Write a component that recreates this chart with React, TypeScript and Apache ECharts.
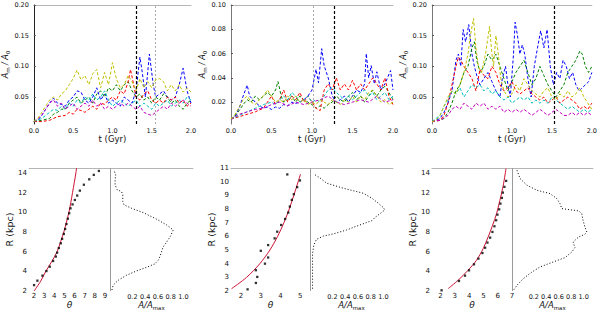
import React, { useEffect, useRef } from "react";
import * as echarts from "echarts";

const FONT = "DejaVu Sans";

// ---------- top row: A_m/A_0 versus t (Gyr) ----------
const tTicks = [0, 0.5, 1.0, 1.5, 2.0];
const yTicksA = [0.05, 0.1, 0.15, 0.2];
const yTicksB = [0.02, 0.04, 0.06, 0.08, 0.1];

const P1_blue = [[0,0.01],[0.05,0.012],[0.1,0.02],[0.15,0.03],[0.2,0.04],[0.25,0.048],[0.3,0.04],[0.35,0.038],[0.4,0.035],[0.45,0.045],[0.5,0.05],[0.55,0.06],[0.6,0.058],[0.65,0.045],[0.7,0.04],[0.75,0.05],[0.8,0.065],[0.85,0.045],[0.9,0.055],[0.95,0.04],[1.0,0.045],[1.05,0.04],[1.1,0.035],[1.15,0.05],[1.2,0.045],[1.25,0.04],[1.3,0.06],[1.35,0.115],[1.38,0.09],[1.42,0.05],[1.47,0.12],[1.52,0.07],[1.55,0.05],[1.6,0.055],[1.65,0.06],[1.7,0.05],[1.75,0.045],[1.8,0.05],[1.85,0.07],[1.9,0.097],[1.95,0.06],[2.0,0.04]];
const P1_green = [[0,0.01],[0.1,0.012],[0.2,0.015],[0.25,0.022],[0.3,0.025],[0.35,0.03],[0.4,0.03],[0.45,0.04],[0.5,0.045],[0.55,0.05],[0.6,0.04],[0.65,0.045],[0.7,0.05],[0.75,0.04],[0.8,0.055],[0.85,0.06],[0.9,0.05],[0.95,0.065],[1.0,0.06],[1.05,0.07],[1.1,0.06],[1.15,0.07],[1.2,0.075],[1.25,0.06],[1.3,0.05],[1.35,0.055],[1.4,0.045],[1.45,0.05],[1.5,0.04],[1.55,0.05],[1.6,0.045],[1.65,0.055],[1.7,0.05],[1.75,0.04],[1.8,0.045],[1.85,0.035],[1.9,0.03],[1.95,0.04],[2.0,0.045]];
const P1_red = [[0,0.01],[0.1,0.01],[0.2,0.012],[0.3,0.018],[0.4,0.02],[0.45,0.025],[0.5,0.022],[0.55,0.03],[0.6,0.028],[0.65,0.025],[0.7,0.03],[0.75,0.035],[0.8,0.03],[0.85,0.04],[0.9,0.038],[0.95,0.045],[1.0,0.05],[1.05,0.045],[1.1,0.06],[1.15,0.055],[1.2,0.075],[1.23,0.095],[1.27,0.07],[1.3,0.05],[1.35,0.045],[1.4,0.055],[1.45,0.06],[1.5,0.045],[1.55,0.04],[1.6,0.045],[1.65,0.04],[1.7,0.05],[1.75,0.045],[1.8,0.05],[1.85,0.04],[1.9,0.045],[1.95,0.035],[2.0,0.04]];
const P1_cyan = [[0,0.01],[0.1,0.015],[0.2,0.025],[0.25,0.03],[0.3,0.028],[0.35,0.035],[0.4,0.03],[0.45,0.04],[0.5,0.035],[0.55,0.045],[0.6,0.04],[0.65,0.05],[0.7,0.045],[0.75,0.055],[0.8,0.045],[0.85,0.05],[0.9,0.06],[0.95,0.045],[1.0,0.035],[1.05,0.04],[1.1,0.045],[1.15,0.04],[1.2,0.035],[1.25,0.04],[1.3,0.045],[1.35,0.035],[1.4,0.04],[1.45,0.035],[1.5,0.03],[1.55,0.04],[1.6,0.035],[1.65,0.04],[1.7,0.045],[1.75,0.035],[1.8,0.04],[1.85,0.045],[1.9,0.04],[1.95,0.05],[2.0,0.045]];
const P1_magenta = [[0,0.01],[0.1,0.02],[0.15,0.03],[0.2,0.04],[0.25,0.045],[0.3,0.035],[0.35,0.04],[0.4,0.03],[0.45,0.035],[0.5,0.04],[0.55,0.03],[0.6,0.035],[0.65,0.04],[0.7,0.035],[0.75,0.045],[0.8,0.035],[0.85,0.04],[0.9,0.03],[0.95,0.035],[1.0,0.03],[1.05,0.035],[1.1,0.04],[1.15,0.035],[1.2,0.04],[1.25,0.035],[1.3,0.03],[1.35,0.035],[1.4,0.025],[1.45,0.022],[1.5,0.02],[1.55,0.025],[1.6,0.03],[1.65,0.035],[1.7,0.03],[1.75,0.04],[1.8,0.035],[1.85,0.04],[1.9,0.045],[1.95,0.04],[2.0,0.035]];
const P1_yellow = [[0,0.01],[0.05,0.015],[0.1,0.025],[0.15,0.035],[0.2,0.045],[0.25,0.05],[0.3,0.045],[0.35,0.055],[0.4,0.06],[0.45,0.07],[0.5,0.08],[0.55,0.094],[0.6,0.078],[0.65,0.085],[0.7,0.07],[0.75,0.088],[0.8,0.095],[0.85,0.065],[0.9,0.09],[0.95,0.07],[1.0,0.106],[1.05,0.08],[1.1,0.065],[1.15,0.07],[1.2,0.085],[1.25,0.075],[1.3,0.06],[1.35,0.08],[1.4,0.065],[1.45,0.075],[1.5,0.065],[1.55,0.078],[1.6,0.08],[1.65,0.075],[1.7,0.06],[1.75,0.07],[1.8,0.06],[1.85,0.07],[1.9,0.058],[1.95,0.065],[2.0,0.058]];

const P2_blue = [[0,0.006],[0.05,0.008],[0.1,0.015],[0.15,0.025],[0.2,0.034],[0.23,0.025],[0.3,0.02],[0.35,0.017],[0.4,0.015],[0.45,0.016],[0.5,0.014],[0.55,0.016],[0.6,0.015],[0.65,0.018],[0.7,0.017],[0.75,0.02],[0.8,0.019],[0.85,0.02],[0.9,0.022],[0.95,0.025],[1.0,0.03],[1.05,0.047],[1.08,0.036],[1.12,0.064],[1.15,0.05],[1.2,0.04],[1.25,0.025],[1.3,0.02],[1.35,0.022],[1.4,0.025],[1.45,0.02],[1.5,0.025],[1.55,0.03],[1.6,0.028],[1.65,0.035],[1.67,0.06],[1.7,0.04],[1.73,0.05],[1.77,0.035],[1.8,0.045],[1.85,0.03],[1.9,0.035],[1.97,0.046],[2.0,0.03]];
const P2_green = [[0,0.006],[0.05,0.009],[0.1,0.013],[0.15,0.018],[0.2,0.022],[0.25,0.02],[0.3,0.025],[0.35,0.022],[0.4,0.025],[0.45,0.028],[0.5,0.025],[0.55,0.03],[0.58,0.037],[0.62,0.025],[0.65,0.02],[0.7,0.022],[0.75,0.025],[0.8,0.02],[0.85,0.025],[0.9,0.022],[0.95,0.02],[1.0,0.018],[1.05,0.015],[1.1,0.017],[1.15,0.015],[1.2,0.018],[1.25,0.02],[1.3,0.025],[1.35,0.022],[1.4,0.02],[1.45,0.025],[1.5,0.028],[1.55,0.022],[1.6,0.025],[1.65,0.02],[1.7,0.025],[1.75,0.03],[1.8,0.025],[1.85,0.03],[1.9,0.033],[1.95,0.028],[2.0,0.022]];
const P2_red = [[0,0.006],[0.1,0.008],[0.2,0.01],[0.3,0.012],[0.4,0.015],[0.45,0.02],[0.5,0.025],[0.55,0.018],[0.6,0.022],[0.65,0.03],[0.7,0.02],[0.75,0.025],[0.8,0.022],[0.85,0.028],[0.9,0.02],[0.95,0.025],[1.0,0.02],[1.05,0.015],[1.1,0.013],[1.15,0.03],[1.2,0.035],[1.25,0.03],[1.3,0.04],[1.35,0.03],[1.4,0.035],[1.45,0.03],[1.5,0.038],[1.55,0.03],[1.6,0.035],[1.65,0.03],[1.7,0.035],[1.75,0.04],[1.8,0.035],[1.85,0.03],[1.9,0.04],[1.95,0.025],[2.0,0.018]];
const P2_cyan = [[0,0.006],[0.1,0.009],[0.2,0.012],[0.3,0.015],[0.4,0.018],[0.5,0.02],[0.55,0.018],[0.6,0.022],[0.65,0.025],[0.7,0.022],[0.75,0.028],[0.8,0.025],[0.85,0.02],[0.9,0.022],[0.95,0.025],[1.0,0.02],[1.05,0.022],[1.1,0.02],[1.15,0.025],[1.2,0.03],[1.25,0.032],[1.3,0.028],[1.35,0.025],[1.4,0.022],[1.45,0.025],[1.5,0.022],[1.55,0.025],[1.6,0.028],[1.65,0.03],[1.7,0.025],[1.75,0.028],[1.8,0.022],[1.85,0.025],[1.9,0.028],[1.95,0.022],[2.0,0.025]];
const P2_magenta = [[0,0.006],[0.1,0.01],[0.2,0.012],[0.3,0.014],[0.4,0.015],[0.5,0.018],[0.6,0.02],[0.7,0.017],[0.8,0.02],[0.9,0.018],[1.0,0.02],[1.1,0.022],[1.2,0.025],[1.3,0.02],[1.4,0.018],[1.5,0.02],[1.6,0.022],[1.7,0.02],[1.8,0.025],[1.9,0.02],[2.0,0.022]];
const P2_yellow = [[0,0.006],[0.05,0.01],[0.1,0.016],[0.15,0.022],[0.2,0.025],[0.25,0.02],[0.3,0.018],[0.35,0.022],[0.4,0.025],[0.45,0.03],[0.5,0.025],[0.55,0.02],[0.6,0.022],[0.65,0.02],[0.7,0.025],[0.75,0.022],[0.8,0.025],[0.85,0.02],[0.9,0.022],[0.95,0.018],[1.0,0.02],[1.05,0.018],[1.1,0.022],[1.15,0.02],[1.2,0.018],[1.25,0.022],[1.3,0.02],[1.35,0.018],[1.4,0.022],[1.45,0.02],[1.5,0.025],[1.55,0.02],[1.6,0.025],[1.65,0.022],[1.7,0.028],[1.75,0.03],[1.8,0.025],[1.85,0.02],[1.9,0.022],[1.95,0.018],[2.0,0.02]];

const P3_blue = [[0,0.01],[0.05,0.012],[0.1,0.015],[0.15,0.025],[0.2,0.04],[0.25,0.06],[0.28,0.09],[0.3,0.11],[0.33,0.12],[0.36,0.1],[0.39,0.16],[0.42,0.14],[0.46,0.168],[0.5,0.12],[0.53,0.1],[0.56,0.085],[0.6,0.07],[0.65,0.08],[0.7,0.09],[0.75,0.075],[0.8,0.06],[0.85,0.05],[0.88,0.08],[0.92,0.1],[0.95,0.07],[0.98,0.05],[1.02,0.12],[1.04,0.172],[1.07,0.15],[1.1,0.12],[1.13,0.135],[1.16,0.12],[1.2,0.08],[1.24,0.05],[1.28,0.1],[1.32,0.13],[1.36,0.158],[1.4,0.13],[1.44,0.16],[1.48,0.1],[1.52,0.07],[1.56,0.09],[1.6,0.08],[1.64,0.11],[1.68,0.1],[1.72,0.08],[1.76,0.09],[1.8,0.07],[1.84,0.06],[1.88,0.065],[1.92,0.07],[1.96,0.075],[2.0,0.09]];
const P3_green = [[0,0.01],[0.1,0.012],[0.15,0.015],[0.2,0.025],[0.25,0.04],[0.3,0.06],[0.35,0.07],[0.4,0.09],[0.45,0.1],[0.5,0.13],[0.53,0.14],[0.56,0.11],[0.6,0.09],[0.65,0.1],[0.7,0.12],[0.75,0.11],[0.8,0.12],[0.85,0.1],[0.9,0.08],[0.95,0.06],[1.0,0.075],[1.05,0.09],[1.1,0.1],[1.15,0.11],[1.2,0.09],[1.25,0.07],[1.3,0.08],[1.35,0.1],[1.4,0.085],[1.45,0.07],[1.5,0.06],[1.55,0.05],[1.6,0.06],[1.65,0.07],[1.7,0.09],[1.75,0.1],[1.8,0.11],[1.85,0.125],[1.88,0.12],[1.92,0.1],[1.96,0.09],[2.0,0.1]];
const P3_red = [[0,0.01],[0.1,0.012],[0.15,0.02],[0.2,0.04],[0.25,0.07],[0.3,0.1],[0.33,0.115],[0.36,0.11],[0.4,0.1],[0.45,0.09],[0.5,0.08],[0.55,0.06],[0.6,0.095],[0.65,0.085],[0.7,0.08],[0.75,0.1],[0.8,0.09],[0.85,0.07],[0.9,0.06],[0.95,0.065],[1.0,0.075],[1.05,0.06],[1.1,0.055],[1.15,0.06],[1.2,0.065],[1.25,0.055],[1.3,0.05],[1.35,0.045],[1.4,0.05],[1.45,0.04],[1.5,0.045],[1.55,0.05],[1.6,0.04],[1.65,0.045],[1.7,0.05],[1.75,0.045],[1.8,0.04],[1.85,0.03],[1.9,0.035],[1.95,0.03],[2.0,0.04]];
const P3_cyan = [[0,0.01],[0.1,0.02],[0.15,0.035],[0.2,0.045],[0.25,0.06],[0.3,0.055],[0.35,0.065],[0.4,0.05],[0.45,0.06],[0.5,0.07],[0.55,0.065],[0.6,0.07],[0.65,0.06],[0.7,0.065],[0.75,0.055],[0.8,0.06],[0.85,0.05],[0.9,0.045],[0.95,0.05],[1.0,0.04],[1.05,0.045],[1.1,0.05],[1.15,0.045],[1.2,0.05],[1.25,0.04],[1.3,0.045],[1.35,0.04],[1.4,0.045],[1.45,0.04],[1.5,0.05],[1.55,0.045],[1.6,0.04],[1.65,0.035],[1.7,0.03],[1.75,0.035],[1.8,0.03],[1.85,0.025],[1.9,0.03],[1.95,0.025],[2.0,0.03]];
const P3_magenta = [[0,0.01],[0.1,0.012],[0.2,0.02],[0.25,0.03],[0.3,0.035],[0.35,0.03],[0.4,0.04],[0.45,0.035],[0.5,0.03],[0.55,0.04],[0.6,0.035],[0.65,0.04],[0.7,0.03],[0.75,0.035],[0.8,0.03],[0.85,0.035],[0.9,0.025],[0.95,0.03],[1.0,0.025],[1.05,0.03],[1.1,0.025],[1.15,0.03],[1.2,0.025],[1.25,0.02],[1.3,0.025],[1.35,0.03],[1.4,0.025],[1.45,0.02],[1.5,0.025],[1.55,0.03],[1.6,0.025],[1.65,0.02],[1.7,0.02],[1.75,0.025],[1.8,0.02],[1.85,0.025],[1.9,0.02],[1.95,0.025],[2.0,0.02]];
const P3_yellow = [[0,0.01],[0.05,0.012],[0.1,0.02],[0.15,0.035],[0.2,0.05],[0.25,0.06],[0.3,0.055],[0.35,0.07],[0.4,0.09],[0.45,0.12],[0.48,0.15],[0.52,0.178],[0.55,0.13],[0.58,0.1],[0.62,0.09],[0.67,0.12],[0.72,0.165],[0.75,0.12],[0.77,0.1],[0.8,0.15],[0.83,0.12],[0.86,0.08],[0.9,0.06],[0.95,0.05],[1.0,0.055],[1.05,0.07],[1.1,0.06],[1.15,0.08],[1.2,0.07],[1.25,0.06],[1.3,0.055],[1.35,0.05],[1.4,0.06],[1.45,0.065],[1.5,0.05],[1.55,0.045],[1.6,0.055],[1.65,0.05],[1.7,0.06],[1.75,0.05],[1.8,0.055],[1.85,0.065],[1.9,0.05],[1.95,0.04],[2.0,0.03]];

// vertical markers (t in Gyr)
const P1_marks = [1.3, 1.55];
const P2_marks = [1.27, 1.02];
const P3_marks = [1.53];

// ---------- bottom row: R (kpc) vs theta, and A/A_max vs R ----------
const P4_thetaTicks = [2, 3, 4, 5, 6, 7, 8, 9];
const P5_thetaTicks = [2, 3, 4, 5];
const P6_thetaTicks = [2, 3, 4, 5, 6, 7];
const R_ticksA = [2, 4, 6, 8, 10, 12, 14];
const R_ticksB = [2, 3, 4, 5, 6, 7, 8, 9, 10, 11];
const A_ticks = [0.2, 0.4, 0.6, 0.8, 1.0];
const A_range = [-0.15, 1.15];

const P4_fit = [[2.0,2],[2.65,3],[3.16,4],[3.75,5],[4.28,6],[4.62,7],[4.94,8],[5.2,9],[5.44,10],[5.63,11],[5.8,12],[5.97,13],[6.13,14],[6.2,14.5]];
const P4_dots = [[2.0,2.6],[2.33,3.05],[2.83,3.56],[3.22,4.03],[3.55,4.47],[3.88,5.05],[4.15,5.5],[4.28,5.9],[4.45,6.37],[4.64,6.85],[4.77,7.3],[4.94,7.8],[5.07,8.3],[5.2,8.8],[5.34,9.35],[5.47,9.9],[5.6,10.4],[5.8,10.8],[6.03,11.25],[6.26,11.7],[6.52,12.2],[6.92,12.8],[7.45,13.35],[7.9,13.8],[8.4,14.2]];
const P4_profile = [[-0.12,2.1],[-0.1,2.6],[-0.02,3.1],[0.11,3.6],[0.27,4.05],[0.42,4.4],[0.55,4.75],[0.61,5.15],[0.64,5.65],[0.68,6.45],[0.74,7.0],[0.8,7.6],[0.84,8.2],[0.74,8.7],[0.58,9.3],[0.37,9.97],[0.19,10.4],[0.07,10.75],[0.05,11.1],[0.05,11.8],[0.03,12.1],[-0.04,12.3],[-0.07,12.8],[-0.07,13.3],[-0.06,13.8],[-0.09,14.3]];

const P5_fit = [[1.53,2.17],[2.29,3],[2.96,4],[3.47,5],[3.86,6],[4.18,7],[4.45,8],[4.68,9],[4.9,10],[5.02,10.55]];
const P5_dots = [[2.34,2.12],[2.76,2.59],[2.83,3.03],[2.76,3.52],[3.22,4.0],[3.38,4.45],[3.01,4.94],[3.38,5.36],[3.71,5.85],[3.84,6.34],[4.04,6.83],[4.24,7.27],[4.4,7.74],[4.48,8.18],[4.58,8.67],[4.68,9.08],[4.85,9.6],[4.99,10.09],[4.35,10.53]];
const P5_profile = [[-0.11,2.17],[-0.11,3.76],[-0.11,4.75],[-0.09,5.36],[-0.05,5.77],[0.06,6.02],[0.21,6.17],[0.42,6.46],[0.63,6.83],[0.82,7.15],[0.87,7.39],[0.97,7.74],[1.02,7.93],[1.0,8.1],[0.92,8.42],[0.82,8.79],[0.68,9.16],[0.37,9.52],[0.11,9.89],[0.01,10.26],[-0.07,10.5]];

const P6_fit = [[2.53,2.24],[3.22,3.08],[3.92,4.1],[4.51,5.12],[4.98,6.3],[5.33,7.49],[5.64,8.68],[5.92,9.86],[6.15,11.2],[6.39,12.75],[6.58,14.44]];
const P6_dots = [[2.07,2.07],[3.29,3.02],[3.71,3.56],[3.99,4.1],[4.34,4.71],[4.65,5.29],[4.93,5.86],[5.12,6.4],[5.28,6.92],[5.47,7.42],[5.63,8.0],[5.77,8.58],[5.89,9.19],[5.98,9.76],[6.1,10.3],[6.19,10.88],[6.29,11.46],[6.36,12.0],[6.47,12.58],[6.59,13.19]];
const P6_profile = [[-0.12,2.14],[-0.07,2.58],[0.03,3.25],[0.17,3.93],[0.3,4.44],[0.51,4.95],[0.7,5.39],[0.81,5.97],[0.86,6.41],[0.83,6.98],[0.92,7.49],[1.02,7.76],[1.05,8.0],[1.02,8.5],[0.99,9.19],[0.97,9.86],[0.92,10.14],[0.65,10.37],[0.62,10.88],[0.57,11.39],[0.46,11.9],[0.25,12.24],[0.09,12.75],[-0.02,13.42],[-0.07,14.27]];

const C = { b: "#0000ff", g: "#008000", r: "#ff0000", c: "#00bfbf", m: "#bf00bf", y: "#bfbf00" };

function buildOption() {
  const topGrids = [
    { left: 29, top: 5, width: 162, height: 119 },
    { left: 231, top: 5, width: 162, height: 119 },
    { left: 432, top: 5, width: 161, height: 119 },
  ];
  const blGrids = [
    { left: 29, top: 168, width: 81, height: 123 },
    { left: 231, top: 168, width: 79, height: 123 },
    { left: 432, top: 168, width: 80, height: 123 },
  ];
  const brGrids = [
    { left: 110, top: 168, width: 83, height: 123 },
    { left: 310, top: 168, width: 83, height: 123 },
    { left: 512, top: 168, width: 81, height: 123 },
  ];
  const grid = [...topGrids, ...blGrids, ...brGrids];

  const top = [
    { lines: [[C.b, P1_blue], [C.g, P1_green], [C.r, P1_red], [C.c, P1_cyan], [C.m, P1_magenta], [C.y, P1_yellow]], ticks: yTicksA, min: 0.006, max: 0.2, marks: P1_marks, leftColor: "#222" },
    { lines: [[C.b, P2_blue], [C.g, P2_green], [C.r, P2_red], [C.c, P2_cyan], [C.m, P2_magenta], [C.y, P2_yellow]], ticks: yTicksB, min: 0.002, max: 0.1, marks: P2_marks, leftColor: "#777" },
    { lines: [[C.b, P3_blue], [C.g, P3_green], [C.r, P3_red], [C.c, P3_cyan], [C.m, P3_magenta], [C.y, P3_yellow]], ticks: yTicksA, min: 0.006, max: 0.2, marks: P3_marks, leftColor: "#777" },
  ];
  const bottom = [
    { fit: P4_fit, dots: P4_dots, prof: P4_profile, th: [1.5, 9.5], thTicks: P4_thetaTicks, rMax: 14.5, rTicks: R_ticksA },
    { fit: P5_fit, dots: P5_dots, prof: P5_profile, th: [1.5, 5.5], thTicks: P5_thetaTicks, rMax: 11, rTicks: R_ticksB },
    { fit: P6_fit, dots: P6_dots, prof: P6_profile, th: [1.4, 7.0], thTicks: P6_thetaTicks, rMax: 14.5, rTicks: R_ticksA },
  ];

  const tickText = (size: number) => ({ fontFamily: FONT, fontSize: size, color: "#111" });
  const xAxis: any[] = [];
  const yAxis: any[] = [];
  const series: any[] = [];

  // top panels
  top.forEach((p, i) => {
    xAxis[i] = {
      type: "value", gridIndex: i, min: 0, max: 2,
      axisLine: { show: false, onZero: false }, axisTick: { show: false }, splitLine: { show: false },
      axisLabel: { ...tickText(6.5), customValues: tTicks, formatter: (v: number) => v.toFixed(1), margin: 3 },
      name: "t (Gyr)", nameLocation: "middle", nameGap: 10,
      nameTextStyle: { fontFamily: FONT, fontSize: 8.5, color: "#111" },
    };
    yAxis[i] = {
      type: "value", gridIndex: i, min: p.min, max: p.max,
      axisLine: { show: true, onZero: false, lineStyle: { color: p.leftColor, width: 1 } },
      axisTick: { show: true, inside: true, length: 2, customValues: p.ticks, lineStyle: { color: "#555" } },
      splitLine: { show: false },
      axisLabel: { ...tickText(6.5), customValues: p.ticks, formatter: (v: number) => v.toFixed(2), margin: 5 },
      name: "{a|A}{s|m}{a| / A}{s|0}", nameLocation: "middle", nameGap: 16,
      nameTextStyle: {
        fontFamily: FONT, color: "#111",
        rich: {
          a: { fontFamily: FONT, fontSize: 8, fontStyle: "italic", color: "#111" },
          s: { fontFamily: FONT, fontSize: 5.5, color: "#111", padding: [5, 0, 0, 0] },
        },
      },
    };
    p.lines.forEach(([color, data], k) => {
      const s: any = {
        type: "line", xAxisIndex: i, yAxisIndex: i, data, symbol: "none", showSymbol: false,
        silent: true, lineStyle: { color, width: 1, type: [3, 2] }, z: 2 + k,
      };
      if (k === 0) {
        s.markLine = {
          symbol: ["none", "none"], silent: true, label: { show: false },
          data: p.marks.map((t, j) => ({
            xAxis: t,
            lineStyle: j === 0 ? { color: "#000", width: 1.2, type: [3, 2] } : { color: "#aaa", width: 1, type: [2, 2] },
          })),
        };
      }
      series.push(s);
    });
  });

  // bottom panels
  bottom.forEach((p, k) => {
    const li = 3 + k;
    const ri = 6 + k;
    xAxis[li] = {
      type: "value", gridIndex: li, min: p.th[0], max: p.th[1],
      axisLine: { show: false, onZero: false }, axisTick: { show: false }, splitLine: { show: false },
      axisLabel: { ...tickText(7), customValues: p.thTicks, formatter: (v: number) => String(v), margin: 1.5 },
      name: "θ", nameLocation: "middle", nameGap: 8,
      nameTextStyle: { fontFamily: FONT, fontSize: 9, fontStyle: "italic", color: "#111" },
    };
    yAxis[li] = {
      type: "value", gridIndex: li, min: 2, max: p.rMax,
      axisLine: { show: false, onZero: false }, axisTick: { show: false }, splitLine: { show: false },
      axisLabel: { ...tickText(7), customValues: p.rTicks, formatter: (v: number) => String(v), margin: 2 },
      name: "R (kpc)", nameLocation: "middle", nameGap: 11,
      nameTextStyle: { fontFamily: FONT, fontSize: 9.5, color: "#111" },
    };
    xAxis[ri] = {
      type: "value", gridIndex: ri, min: A_range[0], max: A_range[1],
      axisLine: { show: false, onZero: false }, axisTick: { show: false }, splitLine: { show: false },
      axisLabel: { ...tickText(6.5), customValues: A_ticks, formatter: (v: number) => v.toFixed(1), margin: 2 },
      name: "{a|A/A}{s|max}", nameLocation: "middle", nameGap: 8,
      nameTextStyle: {
        fontFamily: FONT, color: "#111",
        rich: {
          a: { fontFamily: FONT, fontSize: 8.5, fontStyle: "italic", color: "#111" },
          s: { fontFamily: FONT, fontSize: 5.5, color: "#111", padding: [5, 0, 0, 0] },
        },
      },
    };
    yAxis[ri] = {
      type: "value", gridIndex: ri, min: 2, max: p.rMax,
      axisLine: { show: false, onZero: false }, axisTick: { show: false }, axisLabel: { show: false }, splitLine: { show: false },
    };
    // red fitted spiral, with the gray divider drawn at the right edge of the theta panel
    series.push({
      type: "line", xAxisIndex: li, yAxisIndex: li, data: p.fit, symbol: "none", smooth: 0.3,
      silent: true, lineStyle: { color: "#cc1133", width: 1 }, z: 2, clip: false,
      markLine: {
        symbol: ["none", "none"], silent: true, label: { show: false },
        data: [{ xAxis: p.th[1], lineStyle: { color: "#999", width: 1, type: "solid" } }],
      },
    });
    series.push({
      type: "scatter", xAxisIndex: li, yAxisIndex: li, data: p.dots, symbol: "rect", symbolSize: 2.3,
      silent: true, itemStyle: { color: "#000" }, z: 3,
    });
    series.push({
      type: "line", xAxisIndex: ri, yAxisIndex: ri, data: p.prof, symbol: "none",
      silent: true, lineStyle: { color: "#000", width: 1, type: [1, 2] }, z: 2,
    });
  });

  // decorative top frame lines for all nine grids
  grid.forEach((g, i) => {
    const base = xAxis[i];
    xAxis.push({
      type: "value", gridIndex: i, position: "top", min: base.min, max: base.max,
      axisLine: { show: true, onZero: false, lineStyle: { color: "#b5b5b5", width: 1 } },
      axisTick: { show: false }, axisLabel: { show: false }, splitLine: { show: false },
    });
  });

  return {
    animation: false,
    backgroundColor: "#ffffff",
    textStyle: { fontFamily: FONT },
    grid: grid.map((g) => ({ ...g, containLabel: false })),
    xAxis, yAxis, series,
  };
}

export default function App() {
  const ref = useRef<HTMLDivElement>(null);
  useEffect(() => {
    if (!ref.current) return;
    const chart = echarts.init(ref.current, undefined, { renderer: "svg" });
    chart.setOption(buildOption() as any);
    return () => chart.dispose();
  }, []);
  return <div ref={ref} style={{ position: "absolute", left: 0, top: 0, width: 600, height: 312 }} />;
}
